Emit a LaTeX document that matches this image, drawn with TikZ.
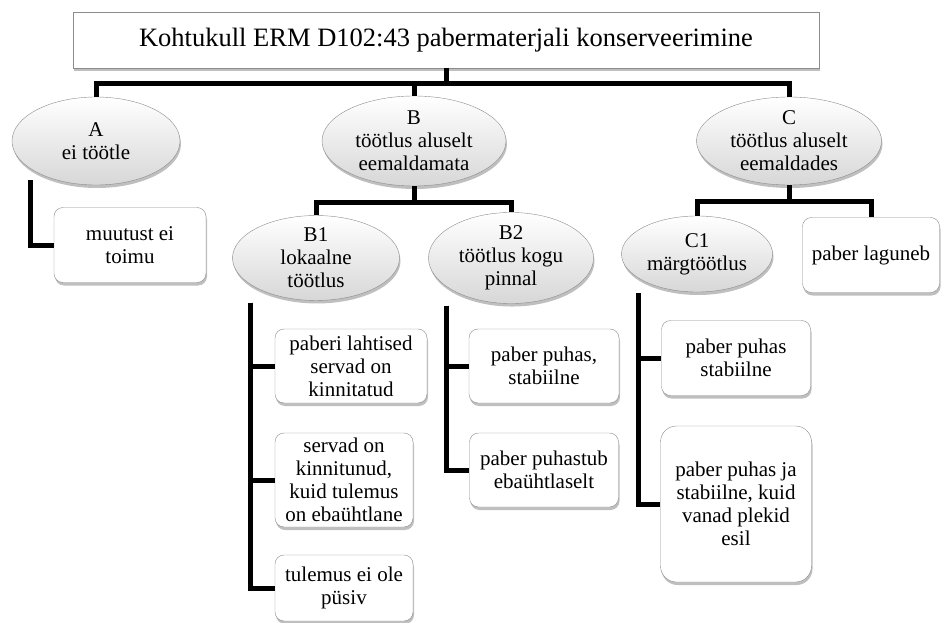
\documentclass[tikz,border=0pt]{standalone}
\usepackage{fontspec}
\setmainfont{Liberation Serif}
\usetikzlibrary{shapes.geometric}
\usetikzlibrary{shadows}

\definecolor{rimgray}{RGB}{140,140,140}
\definecolor{shadegray}{RGB}{215,215,215}

\tikzset{
    softshadow/.style={drop shadow={shadow xshift=1pt,shadow yshift=-3pt,opacity=0.25,fill=black}},
    titlebox/.style={draw=rimgray,fill=white,softshadow,minimum width=746pt,minimum height=56pt,
        font=\fontsize{26.5}{30}\selectfont},
    oval/.style={ellipse,draw=rimgray,top color=white,bottom color=shadegray,softshadow,inner sep=0pt,
        align=center,font=\fontsize{21}{23}\selectfont},
    leaf/.style={rectangle,rounded corners=9pt,draw=rimgray,fill=white,softshadow,inner sep=0pt,
        align=center,font=\fontsize{21}{23}\selectfont},
    conn/.style={line width=5pt,line join=miter,black}
}

\begin{document}
\begin{tikzpicture}[x=1pt,y=-1pt]
    % Canvas
    \useasboundingbox (0,0) rectangle (943,623);

    % Top of the tree
    \node[titlebox] (title) at (446,40) {Kohtukull ERM D102:43 pabermaterjali konserveerimine};

    % First level
    \node[oval,minimum width=168pt,minimum height=88pt] (A) at (96,141) {A\\ei töötle};
    \node[oval,minimum width=184pt,minimum height=90pt] (B) at (414,141) {B\\töötlus aluselt\\eemaldamata};
    \node[oval,minimum width=185pt,minimum height=88pt] (C) at (789,141) {C\\töötlus aluselt\\eemaldades};

    % Second level
    \node[leaf,minimum width=152pt,minimum height=75pt] (A1) at (130,245) {muutust ei\\toimu};
    \node[oval,minimum width=167pt,minimum height=83pt] (B1) at (316,258) {B1\\lokaalne\\töötlus};
    \node[oval,minimum width=165pt,minimum height=83pt] (B2) at (511,258) {B2\\töötlus kogu\\pinnal};
    \node[oval,minimum width=151pt,minimum height=76pt] (C1) at (697,254) {C1\\märgtöötlus};
    \node[leaf,minimum width=137pt,minimum height=75pt] (C2) at (871,255) {paber laguneb};

    % Results under B1
    \node[leaf,minimum width=152pt,minimum height=74pt] (B11) at (351,366) {paberi lahtised\\servad on\\kinnitatud};
    \node[leaf,minimum width=138pt,minimum height=94pt] (B12) at (344,480) {servad on\\kinnitunud,\\kuid tulemus\\on ebaühtlane};
    \node[leaf,minimum width=138pt,minimum height=66pt] (B13) at (344,588) {tulemus ei ole\\püsiv};

    % Results under B2
    \node[leaf,minimum width=150pt,minimum height=74pt] (B21) at (544,366) {paber puhas,\\stabiilne};
    \node[leaf,minimum width=149pt,minimum height=74pt] (B22) at (544,470) {paber puhastub\\ebaühtlaselt};

    % Results under C1
    \node[leaf,minimum width=149pt,minimum height=75pt] (C11) at (736,358) {paber puhas\\stabiilne};
    \node[leaf,rounded corners=16pt,minimum width=151pt,minimum height=156pt] (C12) at (736,504) {paber puhas ja\\stabiilne, kuid\\vanad plekid\\esil};

    % Connectors
    \draw[conn] (title.south) -- ++(0,15) -| (A.north);
    \draw[conn] (title.south) -- ++(0,15) -| (B.north);
    \draw[conn] (title.south) -- ++(0,15) -| (C.north);

    \draw[conn] (B.south) -- ++(0,16) -| (B1.north);
    \draw[conn] (B.south) -- ++(0,16) -| (B2.north);
    \draw[conn] (C.south) -- ++(0,16) -| (C1.north);
    \draw[conn] (C.south) -- ++(0,16) -| (C2.north);

    \draw[conn] (A.south) ++(-66,-5) |- (A1.west);
    \draw[conn] (B1.south) ++(-66,2) |- (B11.west);
    \draw[conn] (B1.south) ++(-66,2) |- (B12.west);
    \draw[conn] (B1.south) ++(-66,2) |- (B13.west);
    \draw[conn] (B2.south) ++(-65,2) |- (B21.west);
    \draw[conn] (B2.south) ++(-65,2) |- (B22.west);
    \draw[conn] (C1.south) ++(-59,1) |- (C11.west);
    \draw[conn] (C1.south) ++(-59,1) |- (C12.west);
\end{tikzpicture}
\end{document}
